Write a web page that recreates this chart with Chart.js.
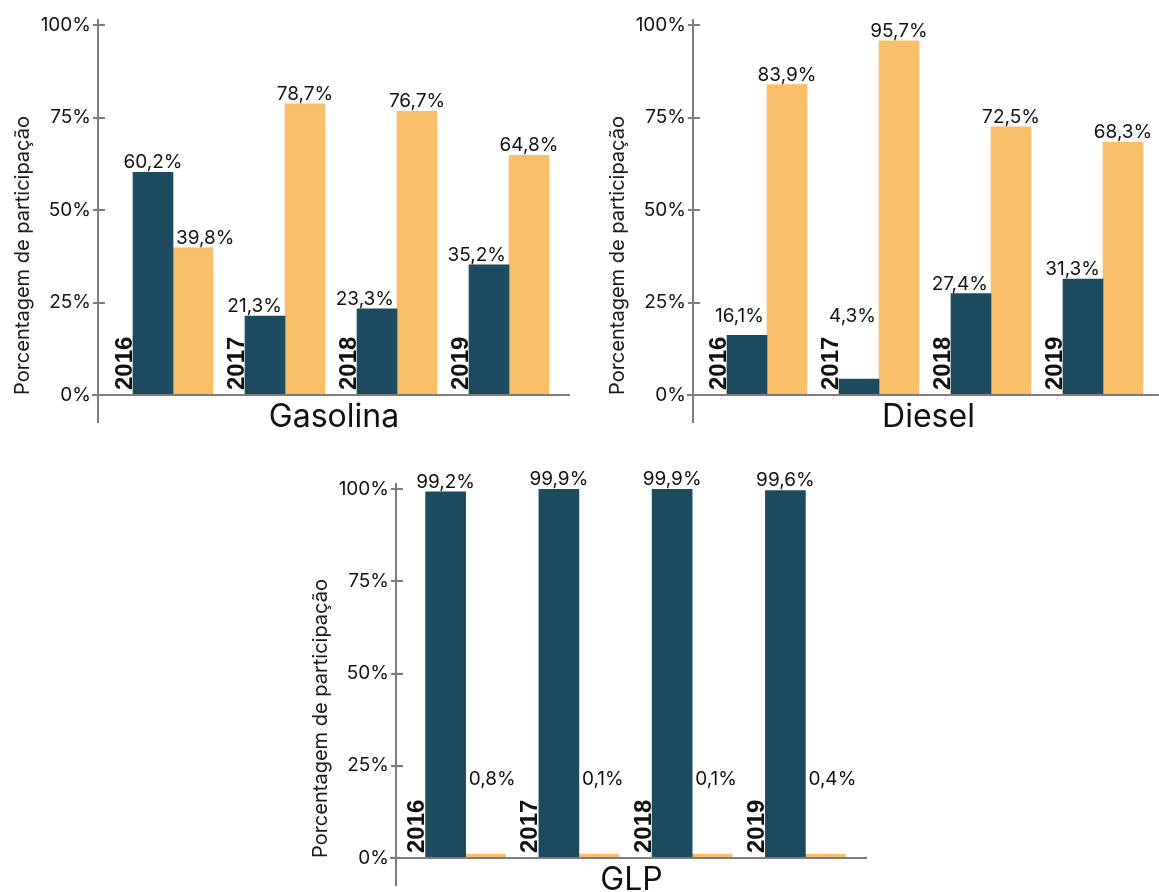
<!DOCTYPE html>
<html lang="pt-BR">
<head>
<meta charset="utf-8">
<title>Porcentagem de participação</title>
<script src="https://cdn.jsdelivr.net/npm/chart.js@4.4.1/dist/chart.umd.min.js"></script>
<style>
  html, body { margin: 0; padding: 0; background: #fff; width: 1159px; height: 892px; overflow: hidden; }
  canvas { position: absolute; left: 0; top: 0; }
</style>
</head>
<body>
<canvas id="gasolina" width="1159" height="950"></canvas>
<canvas id="diesel" width="1159" height="950"></canvas>
<canvas id="glp" width="1159" height="950"></canvas>
<script>
// Dados
const anos = ['2016', '2017', '2018', '2019'];
const yTicks = [0, 25, 50, 75, 100];

const gasolinaEscura = [60.2, 21.3, 23.3, 35.2];
const gasolinaClara  = [39.8, 78.7, 76.7, 64.8];

const dieselEscura = [16.1, 4.3, 27.4, 31.3];
const dieselClara  = [83.9, 95.7, 72.5, 68.3];

const glpEscura = [99.2, 99.9, 99.9, 99.6];
const glpClara  = [0.8, 0.1, 0.1, 0.4];

// Estilo
const COR_ESCURA = '#1c4a5e';
const COR_CLARA = '#f9be69';
const COR_EIXO = '#7d7d7d';
const COR_TEXTO = '#111111';
const FONTE = 'Inter, "Liberation Sans", Arial, sans-serif';
const FONTE_ANO = '"Liberation Sans", Arial, sans-serif';
const LARGURA = 1159, ALTURA = 950;

const fmt = v => v.toFixed(1).replace('.', ',') + '%';

// Eixos com marcas cruzadas, rótulos de ano, rótulos de valor e título do painel
const decor = {
  id: 'decor',
  afterDatasetsDraw(chart, args, opts) {
    const { ctx, chartArea: ca, scales: { y } } = chart;
    const ax = Math.round(ca.left - opts.gap);
    const y0 = Math.round(y.getPixelForValue(0));
    const yTop = y.getPixelForValue(100);
    const xEnd = ca.right + 5;

    ctx.save();
    ctx.strokeStyle = COR_EIXO;
    ctx.lineWidth = 2;
    ctx.beginPath();
    ctx.moveTo(ax, yTop - 6);
    ctx.lineTo(ax, y0 + 28);
    ctx.moveTo(ax - 6, y0);
    ctx.lineTo(xEnd, y0);
    yTicks.forEach(v => {
      if (v === 0) return;
      const py = Math.round(y.getPixelForValue(v));
      ctx.moveTo(ax - 5, py);
      ctx.lineTo(ax + 7, py);
    });
    ctx.stroke();

    // anos, na vertical, à esquerda de cada grupo
    ctx.fillStyle = COR_TEXTO;
    ctx.font = 'bold 24px ' + FONTE_ANO;
    ctx.textAlign = 'left';
    ctx.textBaseline = 'alphabetic';
    chart.getDatasetMeta(0).data.forEach((bar, i) => {
      const left = bar.x - bar.width / 2;
      ctx.save();
      ctx.translate(left - 1.5, y0 - 5);
      ctx.rotate(-Math.PI / 2);
      ctx.fillText(chart.data.labels[i], 0, 0);
      ctx.restore();
    });

    // valores sobre as barras
    ctx.font = '19px ' + FONTE;
    const yPiso = y.getPixelForValue(opts.piso);
    [0, 1].forEach(ds => {
      const meta = chart.getDatasetMeta(ds);
      const vals = chart.data.datasets[ds].data;
      const outros = chart.data.datasets[1 - ds].data;
      meta.data.forEach((bar, i) => {
        const v = vals[i];
        const base = Math.min(bar.y, yPiso) - 4;
        const l = bar.x - bar.width / 2;
        const r = bar.x + bar.width / 2;
        let x = bar.x, align = 'center';
        if (outros[i] > v) {
          if (ds === 0) { x = r - 3; align = 'right'; }
          else { x = l + 3; align = 'left'; }
        }
        ctx.textAlign = align;
        ctx.fillText(fmt(v), x, base);
      });
    });

    // título do painel
    ctx.font = '32px ' + FONTE;
    ctx.textAlign = 'center';
    ctx.textBaseline = 'middle';
    ctx.fillText(opts.titulo, (ax + xEnd) / 2, y0 + 22);
    ctx.restore();
  }
};

function painel(id, escura, clara, titulo, geo) {
  const scaleLeft = geo.axisX - 98;
  return new Chart(document.getElementById(id), {
    type: 'bar',
    data: {
      labels: anos,
      datasets: [
        { label: 'escura', data: escura, backgroundColor: COR_ESCURA },
        { label: 'clara', data: clara, backgroundColor: COR_CLARA }
      ]
    },
    options: {
      responsive: false,
      animation: false,
      events: [],
      layout: {
        padding: { left: scaleLeft, top: geo.top, right: LARGURA - geo.right, bottom: ALTURA - geo.bottom }
      },
      datasets: { bar: { barThickness: 40, minBarLength: 4, borderWidth: 0 } },
      plugins: {
        legend: { display: false },
        tooltip: { enabled: false },
        decor: { gap: geo.left - geo.axisX, piso: 18.7, titulo }
      },
      scales: {
        x: { display: false },
        y: {
          min: 0,
          max: 100,
          afterFit: s => {
            s.width = geo.left - scaleLeft;
            s.paddingTop = 0;
            s.paddingBottom = 0;
          },
          afterBuildTicks: s => { s.ticks = yTicks.map(v => ({ value: v })); },
          grid: { display: false, drawTicks: false },
          border: { display: false },
          ticks: {
            padding: geo.left - geo.axisX + 7,
            color: COR_TEXTO,
            font: { family: FONTE, size: 19 },
            callback: v => v + '%'
          },
          title: {
            display: true,
            text: 'Porcentagem de participação',
            align: 'start',
            color: '#1a1a1a',
            font: { family: FONTE, size: 20 },
            padding: { top: 11, bottom: 0 }
          }
        }
      }
    },
    plugins: [decor]
  });
}

painel('gasolina', gasolinaEscura, gasolinaClara, 'Gasolina', { axisX: 98, left: 117, right: 565, top: 25, bottom: 395 });
painel('diesel', dieselEscura, dieselClara, 'Diesel', { axisX: 693, left: 711, right: 1159, top: 25, bottom: 395 });
painel('glp', glpEscura, glpClara, 'GLP', { axisX: 396, left: 409, right: 862, top: 489, bottom: 858 });
</script>
</body>
</html>
